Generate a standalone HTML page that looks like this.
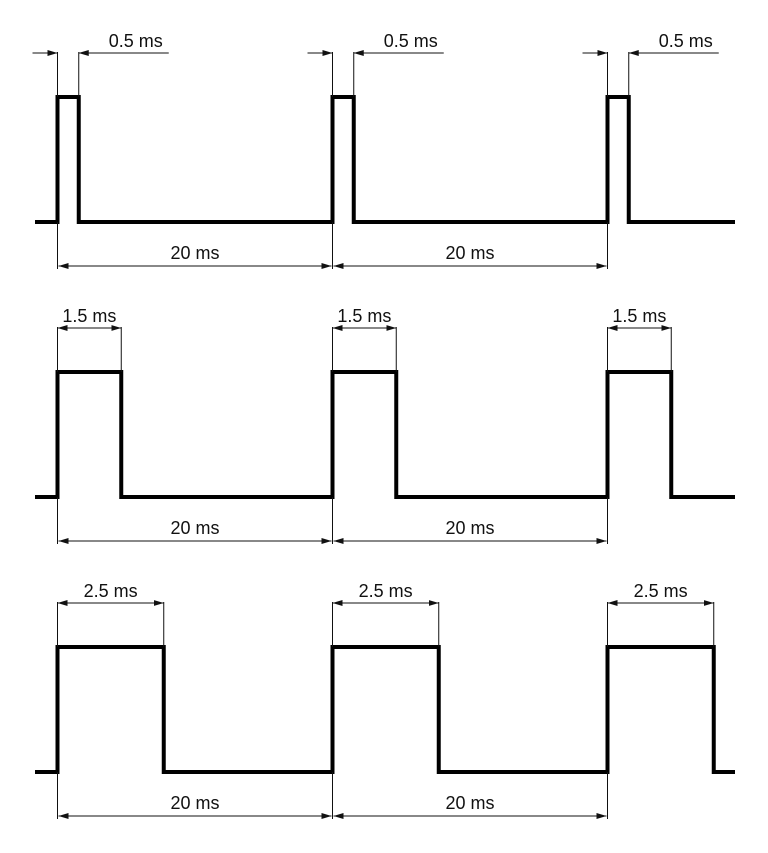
<!DOCTYPE html>
<html><head><meta charset="utf-8"><style>
html,body{margin:0;padding:0;background:#fff}
svg{display:block}
text{font-family:"Liberation Sans",Arial,sans-serif;font-size:18px;fill:#111}
</style></head><body>
<svg id="chart" width="768" height="853" viewBox="0 0 768 853" xmlns="http://www.w3.org/2000/svg">
<defs>
<marker id="ar" viewBox="0 0 10 6" refX="10" refY="3" markerWidth="10" markerHeight="6" orient="auto-start-reverse" markerUnits="userSpaceOnUse">
<path d="M0,0 L10,3 L0,6 z" fill="#111"/></marker>
</defs>
</svg>
<script>
const pulseWidthsMs = [0.5, 1.5, 2.5];
const periodMs = 20;
const pulseCount = 3;
const widthLabels = ["0.5 ms", "1.5 ms", "2.5 ms"];
const periodLabel = "20 ms";

const svg = document.getElementById('chart');
const NS = 'http://www.w3.org/2000/svg';
const x0 = 57.5, periodPx = 275;
const xPeriod = t => x0 + t / periodMs * periodPx;
const wScale = w => w * 42.5;
function el(tag, attrs, parent) {
  const e = document.createElementNS(NS, tag);
  for (const k in attrs) e.setAttribute(k, attrs[k]);
  (parent || svg).appendChild(e);
  return e;
}
pulseWidthsMs.forEach((w, r) => {
  const g = el('g', {});
  
  
  const lowY = 222 + r * 275, highY = 97 + r * 275;
  const dimY = 53 + r * 275, perY = 266 + r * 275;
  const wp = wScale(w);
  let d = 'M35,' + lowY;
  for (let i = 0; i < pulseCount; i++) {
    const s = xPeriod(i * periodMs);
    d += ' L' + s + ',' + lowY + ' L' + s + ',' + highY + ' L' + (s + wp) + ',' + highY + ' L' + (s + wp) + ',' + lowY;
  }
  d += ' L735,' + lowY;
  const p = el('path', {d: d, fill: 'none', stroke: '#000', 'stroke-width': 4, 'stroke-linejoin': 'miter'}, g);
  
  
  for (let i = 0; i < pulseCount; i++) {
    const s = xPeriod(i * periodMs), e2 = s + wp;
    el('line', {x1: s, y1: dimY - 1, x2: s, y2: highY, stroke: '#111', 'stroke-width': 1}, g);
    el('line', {x1: e2, y1: dimY - 1, x2: e2, y2: highY, stroke: '#111', 'stroke-width': 1}, g);
    let t;
    if (w < 1) {
      el('line', {x1: s - 25, y1: dimY, x2: s, y2: dimY, stroke: '#111', 'stroke-width': 1, 'marker-end': 'url(#ar)'}, g);
      el('line', {x1: e2 + 90, y1: dimY, x2: e2, y2: dimY, stroke: '#111', 'stroke-width': 1, 'marker-end': 'url(#ar)'}, g);
      t = el('text', {x: e2 + 30, y: dimY - 6}, g);
    } else {
      el('line', {x1: s, y1: dimY, x2: e2, y2: dimY, stroke: '#111', 'stroke-width': 1, 'marker-start': 'url(#ar)', 'marker-end': 'url(#ar)'}, g);
      t = el('text', {x: (s + e2) / 2, y: dimY - 6, 'text-anchor': 'middle'}, g);
    }
    t.textContent = widthLabels[r];
    
    
    el('line', {x1: s, y1: lowY, x2: s, y2: perY + 3, stroke: '#111', 'stroke-width': 1}, g);
    if (i < pulseCount - 1) {
      const s2 = xPeriod((i + 1) * periodMs);
      el('line', {x1: s + 1, y1: perY, x2: s2 - 1, y2: perY, stroke: '#111', 'stroke-width': 1, 'marker-start': 'url(#ar)', 'marker-end': 'url(#ar)'}, g);
      const pt = el('text', {x: (s + s2) / 2, y: perY - 7, 'text-anchor': 'middle'}, g);
      pt.textContent = periodLabel;
      
      
    }
  }
});
</script>
</body></html>
